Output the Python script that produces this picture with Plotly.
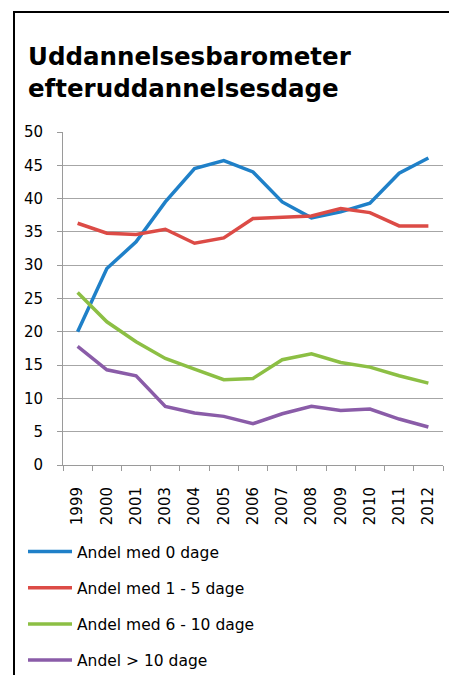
import plotly.graph_objects as go

years = ["1999", "2000", "2001", "2003", "2004", "2005", "2006", "2007", "2008", "2009", "2010", "2011", "2012"]

share_0 = [20.0, 29.5, 33.5, 39.5, 44.5, 45.7, 44.0, 39.5, 37.1, 38.0, 39.3, 43.8, 46.1]
share_1_5 = [36.3, 34.8, 34.6, 35.4, 33.3, 34.1, 37.0, 37.2, 37.4, 38.5, 37.9, 35.9, 35.9]
share_6_10 = [25.9, 21.5, 18.5, 16.0, 14.4, 12.8, 13.0, 15.8, 16.7, 15.4, 14.7, 13.4, 12.3]
share_gt10 = [17.8, 14.3, 13.4, 8.8, 7.8, 7.3, 6.2, 7.7, 8.8, 8.2, 8.4, 6.9, 5.7]

series_names = ["Andel med 0 dage", "Andel med 1 - 5 dage", "Andel med 6 - 10 dage", "Andel > 10 dage"]
series_values = [share_0, share_1_5, share_6_10, share_gt10]
colors = ["#1f80c8", "#dc4b46", "#8cbf44", "#8a5ca8"]

title_text = "Uddannelsesbarometer<br>efteruddannelsesdage"

y_ticks = [0, 5, 10, 15, 20, 25, 30, 35, 40, 45, 50]

W, H = 449, 675
L, R, T, B = 63, 6, 132, 210
pw = W - L - R
ph = H - T - B

def px(x):
    return (x - L) / pw

def py(y):
    return (H - B - y) / ph

fig = go.Figure()
for i, (name, vals, col) in enumerate(zip(series_names, series_values, colors)):
    fig.add_trace(go.Scatter(
        x=years, y=vals, name=name, mode="lines",
        line=dict(color=col, width=3.5),
        legendgroup=f"g{i}",
    ))

font_family = "DejaVu Sans"
title_font = dict(family="DejaVu Sans", size=24.5, color="black", weight="bold")

fig.update_layout(
    width=W, height=H,
    margin=dict(l=L, r=R, t=T, b=B, autoexpand=False),
    paper_bgcolor="white", plot_bgcolor="white",
    font=dict(family=font_family, color="black", size=15),
    annotations=[
        dict(text=title_text, xref="paper", yref="paper", x=px(26), y=py(40),
             xanchor="left", yanchor="top", align="left", showarrow=False,
             font=title_font),
    ],
    showlegend=True,
    legend=dict(
        orientation="v", x=px(23), xanchor="left", y=py(535), yanchor="top",
        font=dict(family=font_family, size=15.5, color="black"),
        tracegroupgap=13, bgcolor="rgba(0,0,0,0)", itemwidth=44,
    ),
    xaxis=dict(
        type="category", range=[-0.5, len(years) - 0.5],
        tickangle=-90, ticks="outside", ticklen=5, tickcolor="#9a9a9a",
        tickson="boundaries", showline=True, linecolor="#9a9a9a", linewidth=1,
        showgrid=False, tickfont=dict(size=15), ticklabelstandoff=15,
    ),
    yaxis=dict(
        range=[0, 50], tickvals=y_ticks, ticks="outside", ticklen=5,
        tickcolor="#9a9a9a", showline=True, linecolor="#9a9a9a", linewidth=1,
        showgrid=True, gridcolor="#a6a6a6", gridwidth=1, zeroline=False,
        tickfont=dict(size=15), ticklabelstandoff=11,
    ),
    shapes=[
        dict(type="rect", xref="paper", yref="paper",
             x0=px(14), x1=px(470), y0=py(700), y1=py(12),
             line=dict(color="black", width=2), fillcolor="rgba(0,0,0,0)", layer="below"),
    ],
)

fig.write_html(
    "out.html",
    config={"displayModeBar": False},
    post_script="document.body.style.margin='0';document.body.style.overflow='hidden';",
)
